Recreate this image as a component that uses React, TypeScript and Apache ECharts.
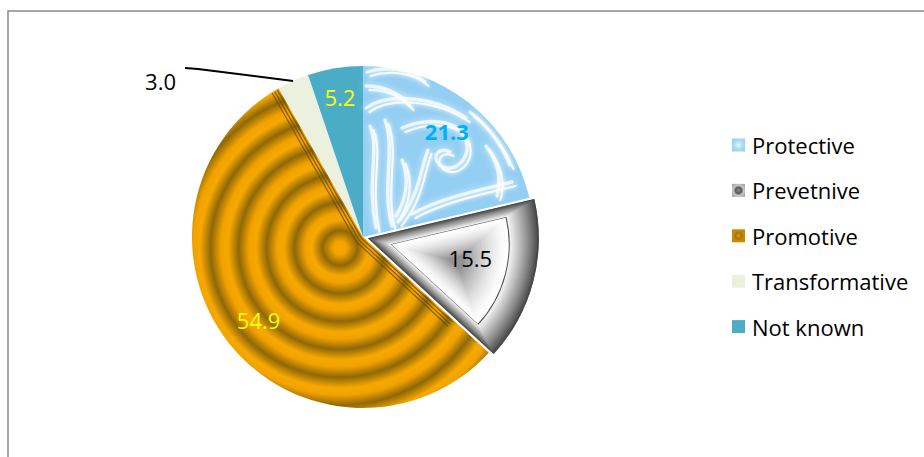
import { useEffect, useRef } from "react";
import * as echarts from "echarts";

// ---- data ----
const categories = ["Protective", "Prevetnive", "Promotive", "Transformative", "Not known"];
const shares = [21.3, 15.5, 54.9, 3.0, 5.2];

// ---- label styling (per slice) ----
const labelColors = ["#00b0f0", "#000000", "#ffff00", "#000000", "#ffff00"];
const labelWeights = ["bold", "normal", "normal", "normal", "normal"];
const labelPlacement = ["inside", "inside", "inside", "outside", "inside"];
const labelRadiusRatio = [0.79, 0.61, 0.78, 1, 0.83];
const labelAngleShift = [0, -4, 0, 0, 0];

// ---- layout ----
const WIDTH = 924;
const HEIGHT = 457;
const CX = 363;
const CY = 237;
const R = 171;
const EXPLODED = 1;
const EXPLODE_OFFSET = 5;
const FONT = '"Open Sans", "Noto Sans", sans-serif';
const CLEAR = "rgba(0,0,0,0)";

const total = shares.reduce((a, b) => a + b, 0);

function sliceAngles(i: number): [number, number] {
  let start = 0;
  for (let j = 0; j < i; j++) start += shares[j];
  return [(start / total) * 360, ((start + shares[i]) / total) * 360];
}

function polar(cx: number, cy: number, r: number, deg: number): [number, number] {
  const a = (deg * Math.PI) / 180;
  return [cx + r * Math.sin(a), cy - r * Math.cos(a)];
}

function mix(a: string, b: string, t: number): string {
  const pa = [1, 3, 5].map((k) => parseInt(a.slice(k, k + 2), 16));
  const pb = [1, 3, 5].map((k) => parseInt(b.slice(k, k + 2), 16));
  const c = pa.map((v, k) => Math.round(v + (pb[k] - v) * t));
  return "#" + c.map((v) => v.toString(16).padStart(2, "0")).join("");
}

// White marbled swirls laid over the "Protective" slice (cubic bezier chains)
const swirlCurves: number[][] = [
  [367, 72, 385, 66, 410, 68, 425, 82],
  [366, 86, 385, 86, 400, 94, 410, 106],
  [366, 108, 385, 94, 430, 94, 466, 118],
  [402, 128, 425, 118, 458, 118, 466, 140, 472, 160, 452, 175, 440, 165, 430, 156, 440, 146, 450, 152],
  [428, 150, 420, 170, 420, 195, 398, 222],
  [470, 112, 486, 124, 500, 142, 510, 165],
  [412, 214, 440, 198, 480, 190, 512, 182],
  [370, 126, 380, 150, 366, 180, 376, 228],
  [385, 120, 396, 150, 381, 186, 392, 226],
  [486, 146, 498, 162, 502, 178, 497, 196],
  [402, 160, 410, 178, 406, 200, 396, 216],
];

function swirlGraphics() {
  const out: any[] = [];
  const strands = [
    [0, 0, 3.4, 0.75, 7],
    [3.5, 4, 2.2, 0.85, 4],
  ];
  swirlCurves.forEach((pts) => {
    strands.forEach(([dx, dy, w, o, blur]) => {
      for (let k = 0; k + 7 < pts.length; k += 6) {
        out.push({
          type: "bezierCurve",
          z: 3,
          silent: true,
          shape: {
            x1: pts[k] + dx,
            y1: pts[k + 1] + dy,
            cpx1: pts[k + 2] + dx,
            cpy1: pts[k + 3] + dy,
            cpx2: pts[k + 4] + dx,
            cpy2: pts[k + 5] + dy,
            x2: pts[k + 6] + dx,
            y2: pts[k + 7] + dy,
          },
          style: {
            stroke: "#ffffff",
            fill: null,
            lineWidth: w,
            opacity: o,
            lineCap: "round",
            shadowBlur: blur,
            shadowColor: "rgba(255,255,255,0.95)",
          },
        });
      }
    });
  });
  return out;
}

// Concentric ring shading for the "Promotive" slice
function ringGradient() {
  const period = 28;
  const rg = 252;
  const stops: { offset: number; color: string }[] = [];
  for (let d = 0; d + period <= rg + 0.01; d += period) {
    stops.push({ offset: d / rg, color: "#f7a800" });
    stops.push({ offset: (d + period * 0.25) / rg, color: "#f2a200" });
    stops.push({ offset: (d + period * 0.62) / rg, color: "#8f6808" });
  }
  stops.push({ offset: 1, color: "#f7a800" });
  return { type: "radial", x: 340, y: 248, r: rg, global: true, colorStops: stops };
}

// Geometry of the pulled-out "Prevetnive" slice
const [pStart, pEnd] = sliceAngles(EXPLODED);
const pMid = (pStart + pEnd) / 2;
const explodedCenter = polar(CX, CY, EXPLODE_OFFSET, pMid);
const bandPivot = polar(explodedCenter[0], explodedCenter[1], 78, pMid);
const focus = polar(explodedCenter[0], explodedCenter[1], 92, pMid);

function shrink(about: [number, number], base: [number, number], baseR: number, k: number) {
  return {
    center: [about[0] + k * (base[0] - about[0]), about[1] + k * (base[1] - about[1])],
    radius: baseR * k,
  };
}

// nested copies of the slice give it a framed, bevelled look
function frameLayers() {
  const layers: { center: number[]; radius: number; color: string }[] = [];
  const bandSteps = 16;
  const kInner = 0.685;
  for (let i = 0; i < bandSteps; i++) {
    const k = 1 - (i * (1 - kInner - 0.012)) / bandSteps;
    layers.push({ ...shrink(bandPivot, explodedCenter, R, k), color: mix("#474747", "#efefef", Math.pow(i / (bandSteps - 1), 0.9)) });
  }
  layers.push({ ...shrink(bandPivot, explodedCenter, R, kInner + 0.01), color: "#4a4a4a" });
  const inner = shrink(bandPivot, explodedCenter, R, kInner);
  const innerSteps = 16;
  for (let j = 0; j < innerSteps; j++) {
    const t = 1 - (j * 0.9) / innerSteps;
    const s = shrink(focus, inner.center as [number, number], inner.radius, t);
    layers.push({ ...s, color: mix("#fefefe", "#939393", Math.pow(j / (innerSteps - 1), 1.5)) });
  }
  return layers;
}

// thin bevel stripes along the straight edges of the "Promotive" slice
function promotiveStripes() {
  const [s0, s1] = sliceAngles(2);
  const uDir = polar(0, 0, 1, s1);
  const lDir = polar(0, 0, 1, s0);
  return [2, 5, 8].map((off) => {
    const uN = polar(0, 0, off, s1 - 90);
    const lN = polar(0, 0, off, s0 + 90);
    const dx = lN[0] - uN[0];
    const dy = lN[1] - uN[1];
    const det = -uDir[0] * lDir[1] + lDir[0] * uDir[1];
    const t = (dx * -lDir[1] + lDir[0] * dy) / det;
    const corner = [CX + uN[0] + t * uDir[0], CY + uN[1] + t * uDir[1]];
    const len = Math.sqrt(R * R - off * off) - 1;
    const upperEnd = [CX + uN[0] + uDir[0] * len, CY + uN[1] + uDir[1] * len];
    const lowerEnd = [CX + lN[0] + lDir[0] * R * 0.72, CY + lN[1] + lDir[1] * R * 0.72];
    return {
      type: "polyline",
      z: 3,
      silent: true,
      shape: { points: [upperEnd, corner, lowerEnd] },
      style: { stroke: "#6e4c00", lineWidth: 1.2, fill: null, opacity: 0.8 },
    };
  });
}

export default function App() {
  const ref = useRef<HTMLDivElement>(null);

  useEffect(() => {
    if (!ref.current) return;
    const chart = echarts.init(ref.current, undefined, { renderer: "svg" });

    const sliceFills: any[] = ["#93cef3", "#808080", ringGradient(), "#ebf1de", "#4bacc6"];

    const legendFills: any[] = [
      { type: "radial", x: 0.5, y: 0.5, r: 0.7, colorStops: [{ offset: 0, color: "#e4f4fd" }, { offset: 0.5, color: "#a9dbf6" }, { offset: 1, color: "#8fcdf2" }] },
      { type: "radial", x: 0.5, y: 0.5, r: 0.7, colorStops: [{ offset: 0, color: "#8a8a8a" }, { offset: 0.35, color: "#5a5a5a" }, { offset: 0.55, color: "#c8c8c8" }, { offset: 1, color: "#9a9a9a" }] },
      { type: "radial", x: 0.5, y: 0.5, r: 0.7, colorStops: [{ offset: 0, color: "#d9a020" }, { offset: 0.35, color: "#a87400" }, { offset: 0.55, color: "#c98a00" }, { offset: 1, color: "#c68700" }] },
      "#ebf1de",
      "#4bacc6",
    ];

    const baseSeries = {
      type: "pie",
      silent: true,
      startAngle: 90,
      clockwise: true,
      avoidLabelOverlap: false,
      label: { show: false },
      labelLine: { show: false },
      emphasis: { disabled: true },
      itemStyle: { borderWidth: 0 },
    };

    const layerSeries = frameLayers().map((layer) => ({
      ...baseSeries,
      z: 2,
      center: layer.center,
      radius: layer.radius,
      data: categories.map((name, i) => ({
        name,
        value: shares[i],
        itemStyle: { color: i === EXPLODED ? layer.color : CLEAR },
      })),
    }));

    const labelSeries = {
      ...baseSeries,
      z: 6,
      center: [CX, CY],
      radius: R,
      data: categories.map((name, i) => ({
        name,
        value: shares[i],
        itemStyle: { color: CLEAR },
        label: {
          show: true,
          position: labelPlacement[i],
          color: labelColors[i],
          fontWeight: labelWeights[i],
          fontFamily: FONT,
          fontSize: 22,
          formatter: () => shares[i].toFixed(1),
        },
        labelLine: {
          show: labelPlacement[i] === "outside",
          lineStyle: { color: "#000000", width: 2 },
        },
      })),
      labelLayout: (p: any) => {
        const i = p.dataIndex;
        const [a0, a1] = sliceAngles(i);
        const mid = (a0 + a1) / 2;
        if (labelPlacement[i] === "outside") {
          const start = polar(CX, CY, R, mid);
          const bend = [start[0] - 95, start[1] - 12];
          const end = [bend[0] - 13, bend[1] - 1];
          return {
            x: end[0] - 9,
            y: end[1] + 13,
            align: "right",
            verticalAlign: "middle",
            labelLinePoints: [start, bend, end],
          };
        }
        const c = i === EXPLODED ? explodedCenter : [CX, CY];
        const pos = polar(c[0], c[1], R * labelRadiusRatio[i], mid + labelAngleShift[i]);
        return { x: pos[0], y: pos[1], align: "center", verticalAlign: "middle" };
      },
    };

    chart.setOption({
      animation: false,
      backgroundColor: "#ffffff",
      legend: {
        orient: "vertical",
        left: 727,
        top: 129,
        itemWidth: 13,
        itemHeight: 13,
        itemGap: 23.4,
        icon: "rect",
        selectedMode: false,
        textStyle: { fontFamily: FONT, fontSize: 22, color: "#000000", lineHeight: 22, padding: [0, 0, 0, 2] },
        data: categories.map((name, i) => ({ name, itemStyle: { color: legendFills[i], borderWidth: 0 } })),
      },
      graphic: [
        {
          type: "rect",
          z: 0,
          silent: true,
          shape: { x: 8, y: 11, width: WIDTH + 20, height: HEIGHT + 20 },
          style: { fill: null, stroke: "#8a8a8a", lineWidth: 1.5 },
        },
        ...swirlGraphics(),
        ...promotiveStripes(),
      ],
      series: [
        {
          ...baseSeries,
          z: 2,
          center: [CX, CY],
          radius: R,
          selectedMode: "single",
          selectedOffset: EXPLODE_OFFSET,
          data: categories.map((name, i) => ({
            name,
            value: shares[i],
            selected: i === EXPLODED,
            itemStyle: { color: sliceFills[i] },
          })),
        },
        ...layerSeries,
        labelSeries,
      ],
    });

    return () => chart.dispose();
  }, []);

  return (
    <div
      ref={ref}
      style={{ position: "fixed", left: 0, top: 0, width: WIDTH, height: HEIGHT }}
    />
  );
}
